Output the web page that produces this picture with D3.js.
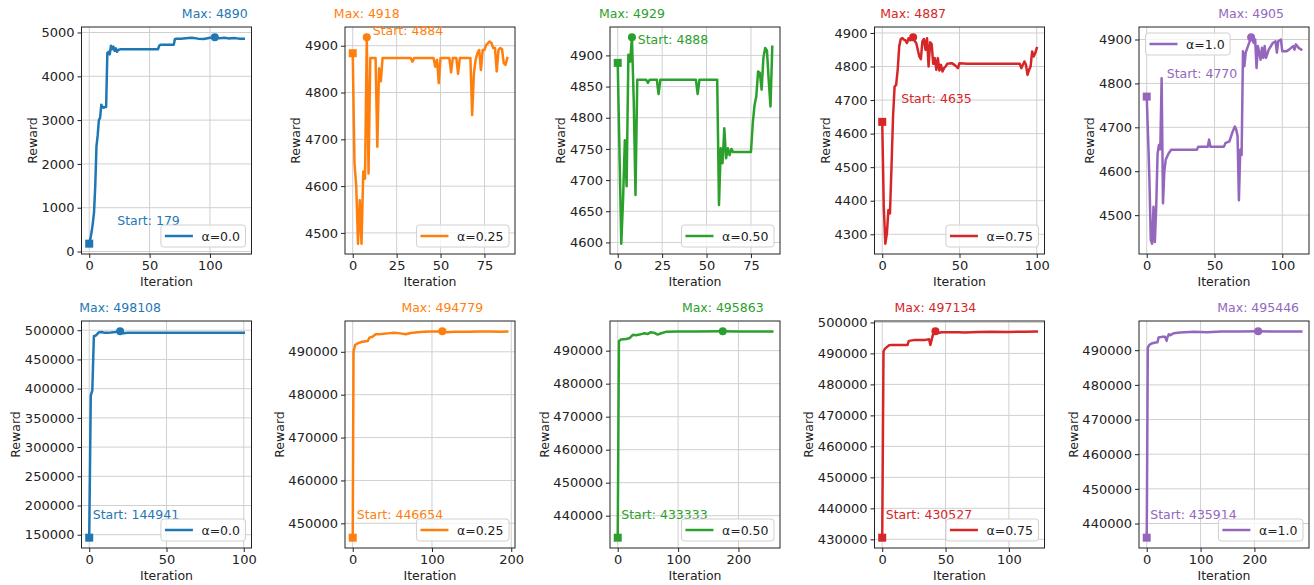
<!DOCTYPE html>
<html><head><meta charset="utf-8">
<script src="https://cdn.jsdelivr.net/npm/d3@7"></script>
<style>
body{margin:0;background:#fff;}
svg{display:block;font-family:"DejaVu Sans",sans-serif;}
</style></head><body>
<svg id="chart" width="1314" height="585"></svg>
<script>
// ---------------- DATA ----------------
const seriesLabels = ["α=0.0","α=0.25","α=0.50","α=0.75","α=1.0","α=0.0","α=0.25","α=0.50","α=0.75","α=1.0"];
const seriesColors = ["#1f77b4","#ff7f0e","#2ca02c","#d62728","#9467bd","#1f77b4","#ff7f0e","#2ca02c","#d62728","#9467bd"];

// Row 1 (small instance)
const iterS0 = [0,1,2,3,4,5,6,7,8,9,10,11,12,13,14,15,16,17,18,19,20,21,22,23,24,26,57,58,59,70,71,72,76,80,85,90,95,100,104,108,112,116,120,124,128];
const rewardS0 = [179,300,450,650,900,1500,2400,2650,3000,3050,3350,3300,3280,3300,3300,4530,4560,4500,4700,4620,4680,4580,4640,4560,4600,4620,4620,4700,4720,4720,4850,4860,4855,4870,4880,4860,4850,4880,4890,4870,4880,4865,4875,4860,4860];

const iterS25 = [0,1,2,3,4,5,6,7,8,9,10,13,14,15,16,17,33,34,35,46,47,48,49,50,55,56,57,59,60,61,67,68,69,70,71,72,73,74,75,76,78,79,80,81,82,83,84,85,86,87,88];
const rewardS25 = [4884,4650,4600,4477,4570,4477,4631,4616,4918,4627,4874,4874,4684,4852,4824,4874,4874,4866,4874,4874,4855,4870,4820,4874,4874,4843,4874,4874,4840,4874,4874,4752,4841,4870,4884,4891,4848,4891,4891,4902,4909,4906,4895,4895,4845,4891,4895,4893,4863,4859,4874];

const iterS50 = [0,2,3,4,5,6,7,8,9,10,11,16,17,18,22,23,24,44,45,46,56,57,58,59,60,61,62,63,64,65,75,76,77,78,79,80,81,82,83,84,85,86,87];
const rewardS50 = [4888,4598,4668,4764,4690,4901,4890,4929,4829,4676,4861,4861,4856,4861,4861,4838,4861,4861,4838,4861,4861,4660,4751,4727,4783,4735,4751,4740,4750,4745,4745,4790,4820,4834,4874,4872,4845,4896,4912,4908,4860,4818,4914];

const iterS75 = [0,1,2,3,4,5,6,7,8,9,10,11,12,13,14,15,16,17,18,19,20,21,22,23,24,25,26,27,28,29,30,31,32,33,34,35,36,37,38,39,40,41,42,45,47,49,50,55,89,90,91,92,93,94,95,96,97,98,99,100];
const rewardS75 = [4635,4382,4272,4302,4372,4362,4501,4651,4740,4745,4790,4860,4882,4885,4880,4878,4870,4884,4878,4880,4887,4876,4870,4850,4830,4822,4875,4882,4850,4884,4800,4872,4866,4808,4825,4790,4825,4788,4805,4785,4795,4800,4808,4810,4804,4795,4810,4808,4808,4795,4805,4815,4805,4775,4790,4800,4845,4830,4840,4855];

const iterS100 = [0,1,2,3,4,5,6,7,8,9,10,11,12,13,14,15,16,18,37,38,45,46,47,57,58,61,63,65,66,67,68,69,70,71,72,73,75,77,79,80,81,82,84,85,86,87,88,90,93,95,96,97,99,100,103,105,108,109,110,112,114];
const rewardS100 = [4770,4679,4580,4443,4435,4519,4439,4519,4640,4660,4650,4812,4527,4600,4626,4633,4640,4649,4649,4656,4656,4672,4656,4656,4664,4668,4687,4702,4695,4680,4534,4649,4637,4873,4839,4870,4888,4905,4892,4900,4835,4885,4854,4881,4858,4885,4858,4877,4892,4896,4870,4896,4900,4873,4873,4877,4885,4877,4889,4881,4877];

// Row 2 (large instance)
const iterL0 = [0,1,2,3,4,5,6,8,10,12,14,17,20,22,25,30,100];
const rewardL0 = [144941,388000,397000,490000,490500,493000,496000,497000,495500,495800,496200,497000,498108,495000,495500,495800,495800];

const iterL25 = [0,1,3,6,12,19,21,25,29,36,44,52,60,67,73,82,90,98,106,113,119,128,145,161,174,186,195];
const rewardL25 = [446654,490000,491570,491960,492350,492500,493300,493500,494080,494160,494300,494470,494300,494080,494400,494550,494650,494720,494750,494779,494550,494650,494700,494760,494750,494650,494700];

const iterL50 = [0,2,5,14,20,25,30,36,41,44,50,55,61,66,72,80,100,130,174,200,256];
const rewardL50 = [433333,492850,493350,493550,493860,494800,494670,494880,495080,495280,495080,495600,495390,494880,495280,495700,495780,495800,495863,495820,495820];

const iterL75 = [0,1,2,5,7,20,21,26,34,37,38,39,40,42,43,47,60,65,76,86,100,113,122];
const rewardL75 = [430527,490600,491450,492530,492750,492750,494050,494370,494370,494590,492750,494370,496000,497134,496540,496800,496850,496750,496900,497000,496950,497000,497080];

const iterL100 = [0,2,5,9,16,20,22,28,34,37,38,41,44,50,62,88,112,138,175,207,231,287];
const rewardL100 = [435914,490770,491540,491920,492210,492300,493650,493850,493850,492700,493500,494600,494330,494900,495100,495300,495200,495380,495420,495446,495400,495380];

// Tick values
const xTicksS0 = [0,50,100], yTicksS0 = [0,1000,2000,3000,4000,5000];
const xTicksS25 = [0,25,50,75], yTicksS25 = [4500,4600,4700,4800,4900];
const xTicksS50 = [0,25,50,75], yTicksS50 = [4600,4650,4700,4750,4800,4850,4900];
const xTicksS75 = [0,50,100], yTicksS75 = [4300,4400,4500,4600,4700,4800,4900];
const xTicksS100 = [0,50,100], yTicksS100 = [4500,4600,4700,4800,4900];
const xTicksL0 = [0,50,100], yTicksL0 = [150000,200000,250000,300000,350000,400000,450000,500000];
const xTicksL25 = [0,100,200], yTicksL25 = [450000,460000,470000,480000,490000];
const xTicksL50 = [0,100,200], yTicksL50 = [440000,450000,460000,470000,480000,490000];
const xTicksL75 = [0,50,100], yTicksL75 = [430000,440000,450000,460000,470000,480000,490000,500000];
const xTicksL100 = [0,100,200], yTicksL100 = [440000,450000,460000,470000,480000,490000];

const xLabel = "Iteration", yLabel = "Reward";

// ---------------- LAYOUT / STYLE ----------------
const colLeft = [81.5, 345, 610, 874.5, 1139];
const rowTop = [27, 321];
const PW = 170, PH = 227;
const startDx = [28,20,20,19,20,3.5,4,3.5,3.5,3.5];
const legendPos = ["lr","lr","lr","lr","ul","lr","lr","lr","lr","lr"];

const panels = [
  [iterS0, rewardS0, xTicksS0, yTicksS0],
  [iterS25, rewardS25, xTicksS25, yTicksS25],
  [iterS50, rewardS50, xTicksS50, yTicksS50],
  [iterS75, rewardS75, xTicksS75, yTicksS75],
  [iterS100, rewardS100, xTicksS100, yTicksS100],
  [iterL0, rewardL0, xTicksL0, yTicksL0],
  [iterL25, rewardL25, xTicksL25, yTicksL25],
  [iterL50, rewardL50, xTicksL50, yTicksL50],
  [iterL75, rewardL75, xTicksL75, yTicksL75],
  [iterL100, rewardL100, xTicksL100, yTicksL100]
];

const svg = d3.select("#chart");
const TXT = "#222";
const tickFont = 13, labelFont = 12.5;

panels.forEach(([iters, rewards, xt, yt], k) => {
  const color = seriesColors[k];
  const gx0 = colLeft[k % 5], gy0 = rowTop[Math.floor(k / 5)];
  const g = svg.append("g").attr("transform", `translate(${gx0},${gy0})`);
  const n = d3.max(iters);
  const [mn, mx] = d3.extent(rewards);
  const rr = mx - mn;
  const x = d3.scaleLinear().domain([-0.05 * n, 1.05 * n]).range([0, PW]);
  const y = d3.scaleLinear().domain([mn - 0.05 * rr, mx + 0.05 * rr]).range([PH, 0]);

  // grid
  g.append("g").selectAll("line").data(xt).join("line")
    .attr("x1", d => x(d)).attr("x2", d => x(d)).attr("y1", 0).attr("y2", PH)
    .attr("stroke", "#d0d0d0").attr("stroke-width", 1);
  g.append("g").selectAll("line").data(yt).join("line")
    .attr("y1", d => y(d)).attr("y2", d => y(d)).attr("x1", 0).attr("x2", PW)
    .attr("stroke", "#d0d0d0").attr("stroke-width", 1);

  // axes
  const ax = g.append("g").attr("transform", `translate(0,${PH})`)
    .call(d3.axisBottom(x).tickValues(xt).tickSize(4).tickPadding(3).tickFormat(d3.format("d")));
  const ay = g.append("g")
    .call(d3.axisLeft(y).tickValues(yt).tickSize(4).tickPadding(3).tickFormat(d3.format("d")));
  [ax, ay].forEach(a => {
    a.select(".domain").remove();
    a.selectAll("line").attr("stroke", TXT);
    a.selectAll("text").attr("fill", TXT).style("font-size", tickFont + "px").style("font-family", '"DejaVu Sans",sans-serif');
  });

  // clip
  const cid = "clip" + k;
  g.append("clipPath").attr("id", cid).append("rect").attr("width", PW).attr("height", PH);

  // line
  const idx = d3.range(iters.length);
  g.append("path").attr("clip-path", `url(#${cid})`)
    .attr("d", d3.line().x(i => x(iters[i])).y(i => y(rewards[i]))(idx))
    .attr("fill", "none").attr("stroke", color).attr("stroke-width", 2.5)
    .attr("stroke-linejoin", "round").attr("stroke-linecap", "square");

  // markers
  const ms = 8;
  g.append("rect").attr("x", x(iters[0]) - ms / 2).attr("y", y(rewards[0]) - ms / 2)
    .attr("width", ms).attr("height", ms).attr("fill", color);
  const mi = d3.maxIndex(rewards);
  g.append("circle").attr("cx", x(iters[mi])).attr("cy", y(rewards[mi])).attr("r", 4).attr("fill", color);

  // frame
  g.append("rect").attr("width", PW).attr("height", PH).attr("fill", "none")
    .attr("stroke", TXT).attr("stroke-width", 1);

  // annotations
  g.append("text").attr("x", x(iters[mi])).attr("y", -9).attr("text-anchor", "middle")
    .attr("fill", color).style("font-size", labelFont + "px").text("Max: " + rewards[mi]);
  g.append("text").attr("x", x(iters[0]) + startDx[k]).attr("y", y(rewards[0]) - 18.5)
    .attr("fill", color).style("font-size", labelFont + "px").text("Start: " + rewards[0]);

  // axis labels
  let minX = Infinity;
  ay.selectAll("text").each(function () { const b = this.getBBox(); minX = Math.min(minX, b.x); });
  g.append("text").attr("transform", `translate(${minX - 4.5},${PH / 2}) rotate(-90)`)
    .attr("text-anchor", "middle").attr("fill", TXT).style("font-size", labelFont + "px").text(yLabel);
  g.append("text").attr("x", PW / 2).attr("y", PH + 32).attr("text-anchor", "middle")
    .attr("fill", TXT).style("font-size", labelFont + "px").text(xLabel);

  // legend
  const lg = g.append("g");
  const box = lg.append("rect");
  const lt = lg.append("text").attr("fill", TXT).style("font-size", labelFont + "px").text(seriesLabels[k]);
  const tw = lt.node().getComputedTextLength();
  const bw = tw + 46, bh = 22;
  const bx = legendPos[k] === "lr" ? PW - 6 - bw : 6.5;
  const by = legendPos[k] === "lr" ? PH - 7 - bh : 6;
  box.attr("x", bx).attr("y", by).attr("width", bw).attr("height", bh).attr("rx", 3)
    .attr("fill", "#fff").attr("fill-opacity", 0.8).attr("stroke", "#d0d0d0");
  lg.append("line").attr("x1", bx + 4).attr("x2", bx + 32).attr("y1", by + bh / 2).attr("y2", by + bh / 2)
    .attr("stroke", color).attr("stroke-width", 2.5);
  lt.attr("x", bx + 40.5).attr("y", by + bh / 2 + 4.5);
});
</script>
</body></html>
